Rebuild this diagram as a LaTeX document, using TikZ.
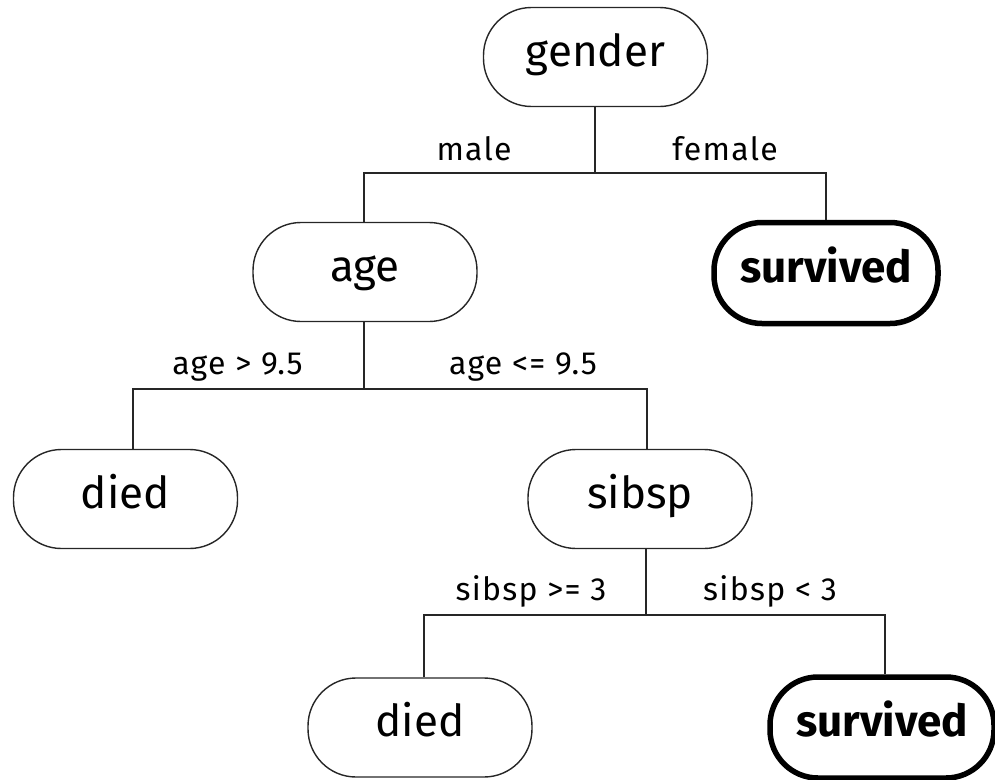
\documentclass[tikz,border=0pt]{standalone}
\usepackage{fontspec}
\setmainfont{Fira Sans}
\newfontfamily\labfont[LetterSpace=4]{Fira Sans}
\begin{document}
\begin{tikzpicture}[x=1pt,y=-1pt,
  treebox/.style={draw=black!85, line width=1.4pt, rounded corners=48pt,
    minimum width=224pt, minimum height=99pt, inner sep=0pt,
    font=\fontsize{44}{44}\selectfont, text height=30pt, text depth=12pt},
  leafbox/.style={treebox, draw=black, line width=5.5pt, minimum width=224pt, minimum height=101pt,
    font=\fontsize{44}{44}\selectfont\bfseries},
  edgelab/.style={anchor=base, inner sep=0pt, font=\labfont\fontsize{32}{32}\selectfont},
  conn/.style={draw=black!85, line width=1.5pt}
]
\useasboundingbox (0,0) rectangle (995,779);

\node[treebox] (gender) at (595.5,57) {gender};
\node[treebox] (age) at (365,272) {age};
\node[leafbox] (surv1) at (826,273) {survived};
\node[treebox] (died1) at (125.5,499) {died};
\node[treebox] (sibsp) at (640,499) {sibsp};
\node[treebox] (died2) at (420,727.5) {died};
\node[leafbox] (surv2) at (882,727.5) {survived};

\coordinate (j1) at (595,173);
\coordinate (j2) at (364,389);
\coordinate (j3) at (646,615);

\draw[conn] ([xshift=-0.5pt]gender.south) -- (j1);
\draw[conn] ([xshift=-1pt]age.north) |- (j1) -| (surv1.north);
\draw[conn] ([xshift=-1pt]age.south) -- (j2);
\draw[conn] ([xshift=7.5pt]died1.north) |- (j2) -| ([xshift=7pt]sibsp.north);
\draw[conn] ([xshift=6pt]sibsp.south) -- (j3);
\draw[conn] ([xshift=4pt]died2.north) |- (j3) -| ([xshift=3pt]surv2.north);

\node[edgelab] (lmale) at (474,160) {male};
\node[edgelab] (lfemale) at (725,160) {female};
\node[edgelab] (lagegt) at (237.5,374) {age > 9.5};
\node[edgelab] (lagele) at (523,374) {age <= 9.5};
\node[edgelab] (lsibge) at (531,600) {sibsp >= 3};
\node[edgelab] (lsiblt) at (770,600) {sibsp < 3};
\end{tikzpicture}
\end{document}
